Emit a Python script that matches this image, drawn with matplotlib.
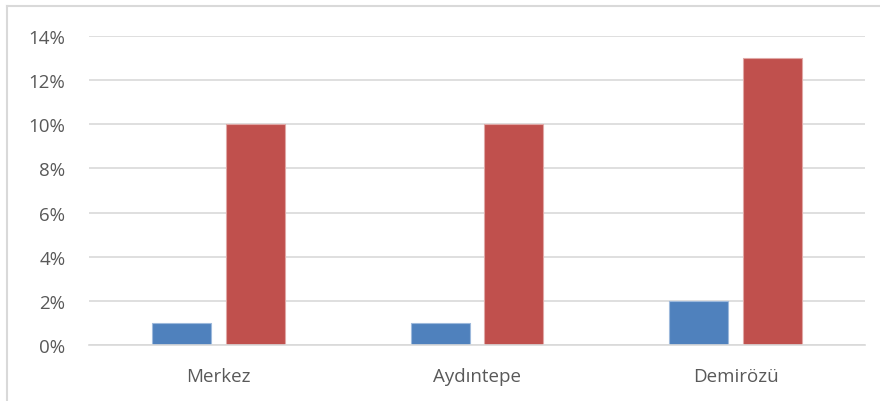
import matplotlib.pyplot as plt
from matplotlib.lines import Line2D
import numpy as np

categories = ["Merkez", "Aydıntepe", "Demirözü"]
series_blue = [1, 1, 2]
series_red = [10, 10, 13]
y_ticks = [0, 2, 4, 6, 8, 10, 12, 14]

plt.rcParams['font.family'] = ['Open Sans', 'DejaVu Sans']

fig = plt.figure(figsize=(8.8, 4.02), dpi=100)
ax = fig.add_axes([89 / 880, 1 - 346 / 402, (865 - 89) / 880, (346 - 37) / 402])

x = np.arange(len(categories))
w = 0.228
off = 0.142
ax.bar(x - off, series_blue, w, color="#4F81BD", edgecolor="#9DB9DC", linewidth=0.8)
ax.bar(x + off, series_red, w, color="#C0504D", edgecolor="#E0A8A6", linewidth=0.8)

ax.set_xlim(-0.5, 2.5)
ax.set_ylim(0, 14)
ax.set_yticks(y_ticks)
ax.set_yticklabels([f"{v}%" for v in y_ticks])
ax.set_xticks(x)
ax.set_xticklabels(categories)
ax.tick_params(axis="both", length=0, labelsize=13.5, colors="#595959")
ax.tick_params(axis="y", pad=17)
ax.tick_params(axis="x", pad=16)
ax.yaxis.grid(True, color="#D9D9D9", linewidth=1.2)
ax.set_axisbelow(True)
for s in ["top", "right", "left"]:
    ax.spines[s].set_visible(False)
ax.spines["bottom"].set_color("#D9D9D9")
ax.spines["bottom"].set_linewidth(1.2)

# outer chart border (top and left visible)
fig.add_artist(Line2D([7 / 880, 1], [1 - 7 / 402, 1 - 7 / 402], color="#D9D9D9", linewidth=1.5))
fig.add_artist(Line2D([7 / 880, 7 / 880], [0, 1 - 7 / 402], color="#D9D9D9", linewidth=1.5))

fig.savefig("out.png", dpi=100, facecolor="white")
